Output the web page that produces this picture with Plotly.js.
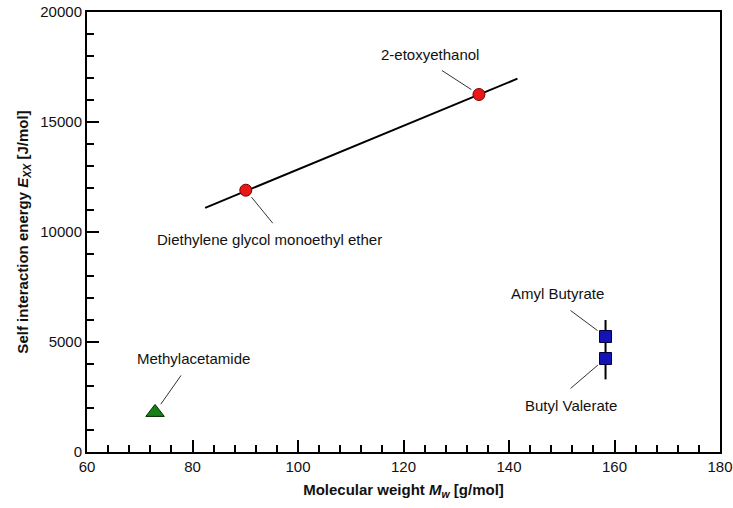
<!DOCTYPE html>
<html>
<head>
<meta charset="utf-8">
<script src="https://cdn.plot.ly/plotly-3.0.1.min.js"></script>
<style>html,body{margin:0;padding:0;background:#fff;}#chart{width:733px;height:508px;}</style>
</head>
<body>
<div id="chart"></div>
<script>
// Data
const etherNames = ["Diethylene glycol monoethyl ether", "2-etoxyethanol"];
const etherMw = [90.1, 134.3];
const etherE = [11900, 16250];

const esterNames = ["Amyl Butyrate", "Butyl Valerate"];
const esterMw = [158.3, 158.3];
const esterE = [5250, 4250];

const amideNames = ["Methylacetamide"];
const amideMw = [72.9];
const amideE = [1800];

// Trend lines
const etherFitMw = [82.4, 141.6];
const etherFitE = [11100, 16970];
const esterFitMw = [158.3, 158.3];
const esterFitE = [3300, 6000];

const xTicks = [60, 80, 100, 120, 140, 160, 180];
const yTicks = [0, 5000, 10000, 15000, 20000];

// label placement (pixel offsets from the point, y downwards): text centre, leader tail, gap at point
const labelOffsets = {
  "Diethylene glycol monoethyl ether": {tx: 24, ty: 49, lx: 27, ly: 33, so: 9},
  "2-etoxyethanol": {tx: -49, ty: -40, lx: -37, ly: -24, so: 9},
  "Amyl Butyrate": {tx: -48, ty: -43, lx: -35, ly: -26, so: 10},
  "Butyl Valerate": {tx: -35, ty: 47, lx: -35, ly: 30, so: 10},
  "Methylacetamide": {tx: 38, ty: -54, lx: 26, ly: -37, so: 10}
};

const FONT = '"Liberation Sans", Arial, Helvetica, sans-serif';

const traces = [
  {x: etherFitMw, y: etherFitE, mode: 'lines', line: {color: '#000', width: 2}, hoverinfo: 'skip'},
  {x: esterFitMw, y: esterFitE, mode: 'lines', line: {color: '#000', width: 2}, hoverinfo: 'skip'},
  {x: etherMw, y: etherE, text: etherNames, mode: 'markers',
   marker: {symbol: 'circle', size: 12, color: '#e81818', line: {color: '#7a0000', width: 1}}},
  {x: esterMw, y: esterE, text: esterNames, mode: 'markers',
   marker: {symbol: 'square', size: 12, color: '#1414b4', line: {color: '#000040', width: 1}}},
  {x: amideMw, y: amideE, text: amideNames, mode: 'markers',
   marker: {symbol: 'triangle-up', size: 16, color: '#168016', line: {color: '#002800', width: 1}}}
];

const annotations = [];
const shapes = [];
function addLabels(names, xs, ys) {
  names.forEach((n, i) => {
    const o = labelOffsets[n];
    annotations.push({x: xs[i], y: ys[i], xref: 'x', yref: 'y', text: n, showarrow: false,
      xshift: o.tx, yshift: -o.ty, font: {family: FONT, size: 15, color: '#111'}});
    const d = Math.hypot(o.lx, o.ly);
    const hx = o.lx / d * o.so, hy = o.ly / d * o.so;
    shapes.push({type: 'line', xref: 'x', yref: 'y', xsizemode: 'pixel', ysizemode: 'pixel',
      xanchor: xs[i], yanchor: ys[i], x0: o.lx, y0: -o.ly, x1: hx, y1: -hy,
      line: {color: '#333', width: 1}});
  });
}
addLabels(etherNames, etherMw, etherE);
addLabels(esterNames, esterMw, esterE);
addLabels(amideNames, amideMw, amideE);

const layout = {
  width: 733, height: 508,
  margin: {l: 87, r: 13, t: 12, b: 56},
  paper_bgcolor: '#fff', plot_bgcolor: '#fff',
  showlegend: false,
  font: {family: FONT, size: 15, color: '#111'},
  xaxis: {
    range: [60, 180], tickvals: xTicks, ticktext: xTicks.map(String),
    ticks: 'inside', ticklen: 12, tickwidth: 2, tickcolor: '#000',
    minor: {dtick: 4, tick0: 60, ticks: 'inside', ticklen: 7, tickwidth: 2, tickcolor: '#000'},
    showline: true, linecolor: '#000', linewidth: 2, mirror: true,
    showgrid: false, zeroline: false,
    tickfont: {family: FONT, size: 15, color: '#111'},
    title: {text: '<b>Molecular weight <i>M</i><sub><i>w</i></sub> [g/mol]</b>', font: {family: FONT, size: 15, color: '#111'}, standoff: 10}
  },
  yaxis: {
    range: [0, 20000], tickvals: yTicks, ticktext: yTicks.map(String),
    ticks: 'inside', ticklen: 12, tickwidth: 2, tickcolor: '#000',
    minor: {dtick: 1000, tick0: 0, ticks: 'inside', ticklen: 7, tickwidth: 2, tickcolor: '#000'},
    showline: true, linecolor: '#000', linewidth: 2, mirror: true,
    showgrid: false, zeroline: false,
    tickfont: {family: FONT, size: 15, color: '#111'},
    title: {text: '<b>Self interaction energy <i>E</i><sub><i>XX</i></sub> [J/mol]</b>', font: {family: FONT, size: 15, color: '#111'}, standoff: 8}
  },
  annotations: annotations,
  shapes: shapes
};

Plotly.newPlot('chart', traces, layout, {displayModeBar: false, staticPlot: true});
</script>
</body>
</html>
